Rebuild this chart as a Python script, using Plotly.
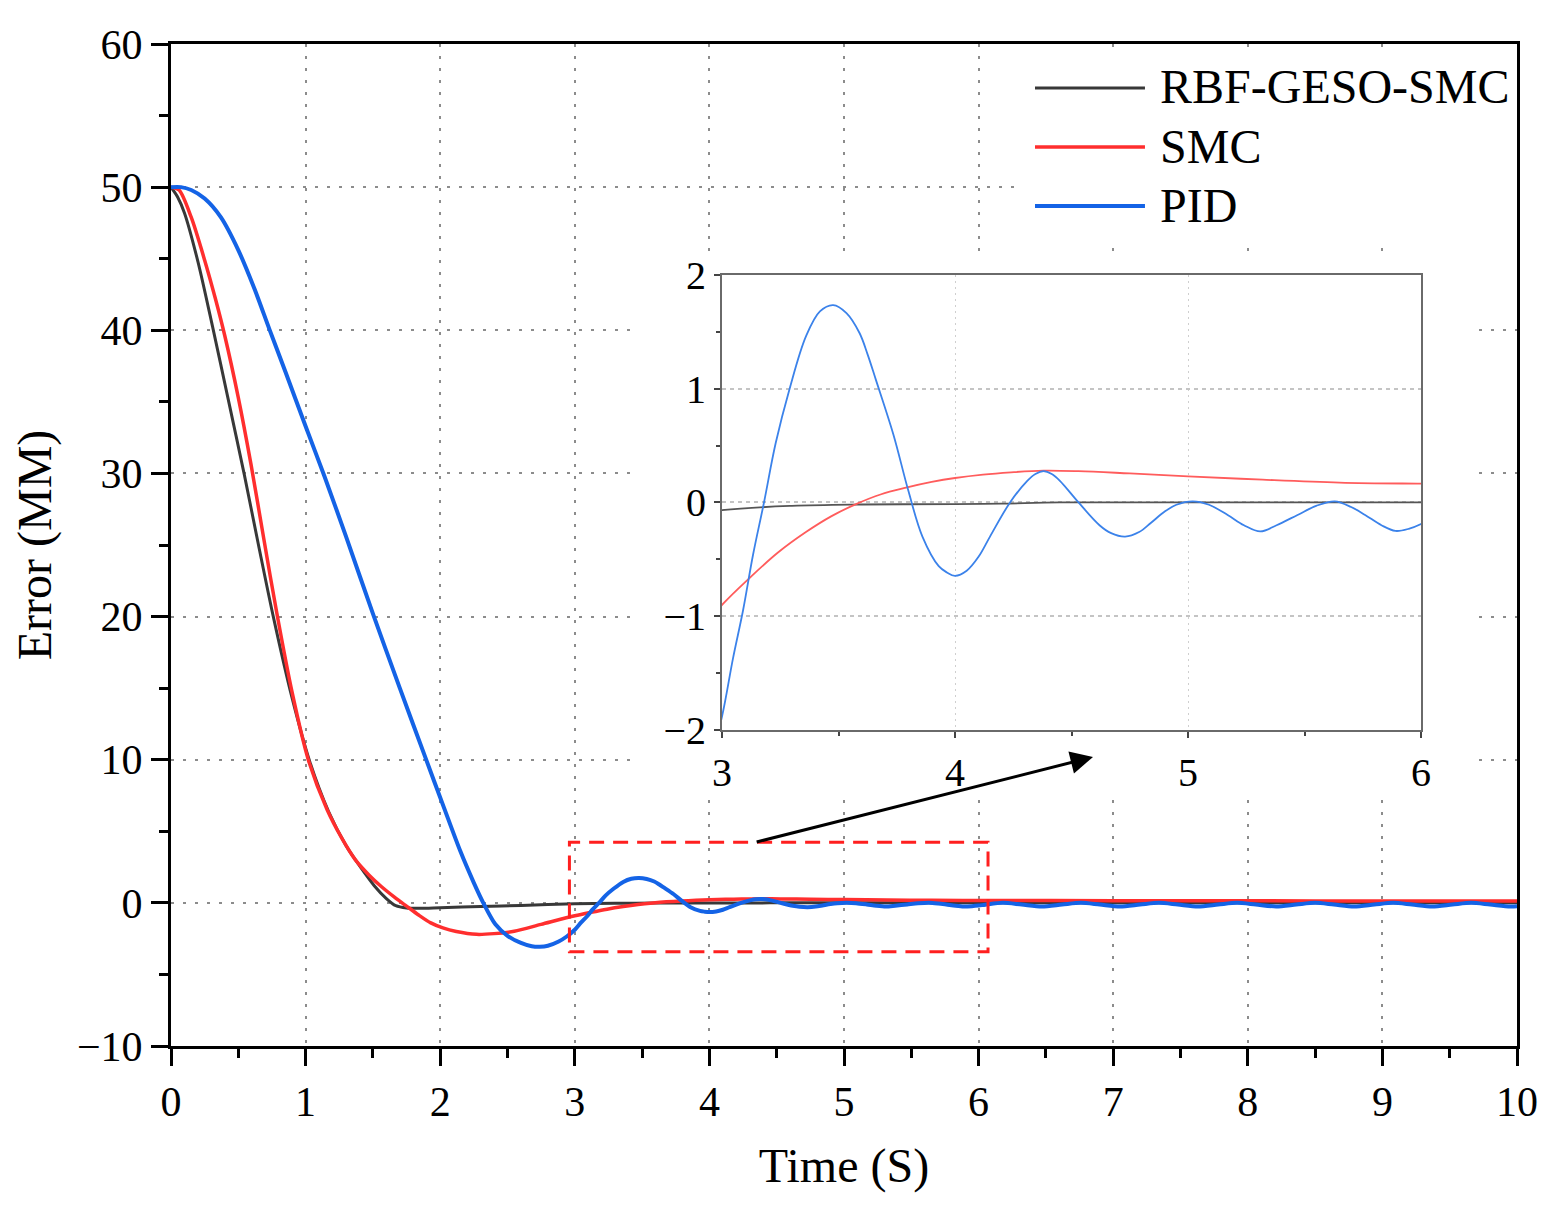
import plotly.graph_objects as go

# values (time in s, error in mm)
t_rbf = [0, 0.05, 0.1, 0.2, 0.31, 0.42, 0.545, 0.65, 0.76, 0.9, 1.03, 1.17, 1.3, 1.4,
         1.51, 1.6, 1.67, 1.75, 1.85, 2.0, 2.3, 2.6, 3.0, 3.3, 3.6, 4.0, 4.2, 4.45,
         5.0, 6.0, 7.0, 8.0, 9.0, 10.0]
e_rbf = [50, 49.3, 48.2, 44.8, 40.2, 35.4, 29.9, 25.0, 20.0, 14.3, 9.9, 6.4, 4.0, 2.6,
         1.2, 0.3, -0.2, -0.36, -0.38, -0.34, -0.26, -0.18, -0.067, -0.03, -0.018, -0.014, -0.01, 0,
         0, 0, 0, 0, 0, 0]

t_smc = [0, 0.06, 0.15, 0.25, 0.33, 0.4, 0.5, 0.595, 0.69, 0.785, 0.9, 1.02, 1.16, 1.27,
         1.37, 1.47, 1.56, 1.66, 1.75, 1.84, 1.93, 2.02, 2.12, 2.27, 2.4, 2.55, 2.75, 3.0,
         3.12, 3.24, 3.36, 3.47, 3.58, 3.68, 3.79, 3.9, 4.0, 4.12, 4.24, 4.38, 4.53, 4.75,
         5.0, 5.32, 5.65, 6.0, 7.0, 8.0, 9.0, 10.0]
e_smc = [50, 49.8, 47.9, 44.9, 42.2, 39.6, 35.3, 30.6, 25.4, 20.3, 14.7, 10.0, 6.5, 4.5,
         3.0, 1.95, 1.16, 0.4, -0.23, -0.85, -1.4, -1.75, -2.0, -2.2, -2.15, -1.98, -1.5, -0.9,
         -0.66, -0.44, -0.26, -0.12, -0.01, 0.07, 0.13, 0.18, 0.215, 0.245, 0.265, 0.28, 0.275, 0.255,
         0.23, 0.2, 0.175, 0.165, 0.15, 0.14, 0.135, 0.13]

t_pid = [0, 0.074, 0.15, 0.25, 0.37, 0.5, 0.62, 0.73, 0.85, 1.0, 1.14, 1.3, 1.5, 1.7,
         1.9, 2.03, 2.15, 2.25, 2.32, 2.41, 2.5, 2.6, 2.68, 2.74, 2.8, 2.88, 2.94, 3.0,
         3.047, 3.09, 3.133, 3.18, 3.23, 3.29, 3.36, 3.42, 3.477, 3.534, 3.59, 3.625, 3.66, 3.735,
         3.8, 3.86, 3.93, 3.965, 4.0, 4.05, 4.1, 4.15, 4.236, 4.31, 4.345, 4.38, 4.415, 4.45,
         4.53, 4.62, 4.67, 4.73, 4.79, 4.84, 4.9, 4.95, 5.02, 5.09, 5.17, 5.24, 5.31, 5.38,
         5.47, 5.55, 5.63, 5.7, 5.76, 5.83, 5.89, 5.95, 6.0, 6.05, 6.18, 6.32, 6.47, 6.62,
         6.76, 6.9, 7.05, 7.2, 7.34, 7.48, 7.63, 7.78, 7.92, 8.06, 8.21, 8.36, 8.5, 8.64,
         8.79, 8.94, 9.08, 9.22, 9.37, 9.52, 9.66, 9.8, 9.95, 10.0]
e_pid = [50, 50, 49.8, 49.2, 47.9, 45.6, 42.9, 40.1, 37.1, 33.3, 29.8, 25.6, 20.2, 15.0,
         9.9, 6.6, 3.6, 1.4, 0, -1.5, -2.3, -2.8, -3.03, -3.07, -3.0, -2.7, -2.35, -1.88,
         -1.37, -0.95, -0.46, 0, 0.52, 1.0, 1.46, 1.68, 1.735, 1.665, 1.49, 1.3, 1.08, 0.6,
         0.1, -0.3, -0.56, -0.615, -0.645, -0.6, -0.48, -0.3, 0, 0.19, 0.25, 0.275, 0.25, 0.19,
         0.0, -0.2, -0.27, -0.3, -0.26, -0.18, -0.08, -0.02, 0.01, -0.02, -0.11, -0.2, -0.255, -0.2,
         -0.11, -0.03, 0.01, -0.04, -0.11, -0.2, -0.25, -0.23, -0.19, -0.13, 0.0, -0.12, -0.25, -0.12,
         0.0, -0.12, -0.25, -0.12, 0.0, -0.12, -0.25, -0.12, 0.0, -0.12, -0.25, -0.12, 0.0, -0.12,
         -0.25, -0.12, 0.0, -0.12, -0.25, -0.12, 0.0, -0.12, -0.25, -0.24]

names = ["RBF-GESO-SMC", "SMC", "PID"]
colors = ["#383838", "#ff2e2e", "#1463e6"]
inset_colors = ["#555555", "#ff5c5c", "#3b82ea"]

FONT = "Liberation Serif"

fig = go.Figure()
series = [(t_rbf, e_rbf), (t_smc, e_smc), (t_pid, e_pid)]
widths = [3, 3.5, 4]

for (t, e), name, c, w in zip(series, names, colors, widths):
    fig.add_trace(go.Scatter(x=t, y=e, mode="lines", name=name, showlegend=False,
                             line=dict(color=c, width=w, shape="spline", smoothing=0.8)))

# zoomed inset, same data
for (t, e), name, c in zip(series, names, inset_colors):
    fig.add_trace(go.Scatter(x=t, y=e, mode="lines", name=name, showlegend=False,
                             xaxis="x2", yaxis="y2",
                             line=dict(color=c, width=1.8, shape="spline", smoothing=1.0)))

grid_main = dict(showgrid=True, gridcolor="#8c8c8c", gridwidth=2, griddash="3px,9px")
axis_main = dict(showline=True, linecolor="black", linewidth=3, mirror=True,
                 ticks="outside", ticklen=17, tickwidth=3, tickcolor="black",
                 zeroline=False, tickfont=dict(family=FONT, size=42, color="black"))
axis_inset = dict(showline=True, linecolor="#6a6a6a", linewidth=2, mirror=True,
                  ticks="outside", ticklen=6, tickwidth=2, tickcolor="#444444",
                  showgrid=True, zeroline=False,
                  tickfont=dict(family=FONT, size=40, color="black"))

# page body has an 8px margin, so the figure is shifted; sizes compensate
fig.update_layout(
    width=1543, height=1197,
    margin=dict(l=163, r=34, t=36, b=159),
    paper_bgcolor="white", plot_bgcolor="white",
    font=dict(family=FONT, color="black"),
    showlegend=False,
    xaxis=dict(range=[0, 10], dtick=1, **grid_main, **axis_main,
               minor=dict(dtick=0.5, ticks="outside", ticklen=9, tickwidth=3, tickcolor="black", showgrid=False),
               title=dict(text="Time (S)", font=dict(family=FONT, size=48), standoff=24)),
    yaxis=dict(range=[-10, 60], dtick=10, **grid_main, **axis_main,
               minor=dict(dtick=5, ticks="outside", ticklen=9, tickwidth=3, tickcolor="black", showgrid=False),
               title=dict(text="Error (MM)", font=dict(family=FONT, size=48), standoff=12)),
    xaxis2=dict(domain=[0.4094, 0.9287], anchor="y2", range=[3, 6], dtick=1, **axis_inset,
                minor=dict(dtick=0.5, ticks="outside", ticklen=4, tickwidth=2, tickcolor="#444444"),
                gridcolor="#cfcfcf", gridwidth=1, griddash="2px,4px"),
    yaxis2=dict(domain=[0.3154, 0.7695], anchor="x2", range=[-2, 2], dtick=1, **axis_inset,
                minor=dict(dtick=0.5, ticks="outside", ticklen=4, tickwidth=2, tickcolor="#444444"),
                gridcolor="#c4c4c4", gridwidth=1.5, griddash="4px,4px"),
)

# white panels (inset and legend) over the main grid, under the traces
fig.add_shape(type="rect", xref="x", yref="y", x0=3.425, x1=9.688, y0=7.54, y1=45.43,
              fillcolor="white", line=dict(width=0), layer="between")
fig.add_shape(type="rect", xref="x", yref="y", x0=6.32, x1=10, y0=45.9, y1=59.3,
              fillcolor="white", line=dict(width=0), layer="between")

# legend drawn by hand so the spacing matches
legend_rows = [0.9561, 0.8972, 0.8383]
for name, c, w, yr in zip(names, colors, widths, legend_rows):
    fig.add_shape(type="line", xref="paper", yref="paper", x0=0.6419, x1=0.7236, y0=yr, y1=yr,
                  line=dict(color=c, width=w), layer="above")
    fig.add_annotation(x=0.7333, y=yr, xref="paper", yref="paper", text=name, showarrow=False,
                       xanchor="left", yanchor="middle", yshift=1,
                       font=dict(family=FONT, size=48, color="black"))

# red zoom box and arrow to the inset
fig.add_shape(type="rect", xref="x", yref="y", x0=2.96, x1=6.07, y0=-3.42, y1=4.23,
              line=dict(color="#ff1f1f", width=3, dash="15px,9px"), layer="above")
fig.add_annotation(x=6.85, y=10.19, ax=4.34, ay=4.23, xref="x", yref="y", axref="x", ayref="y",
                   text="", showarrow=True, arrowhead=2, arrowsize=1.5, arrowwidth=3,
                   arrowcolor="black")

fig.write_html("out.html")
